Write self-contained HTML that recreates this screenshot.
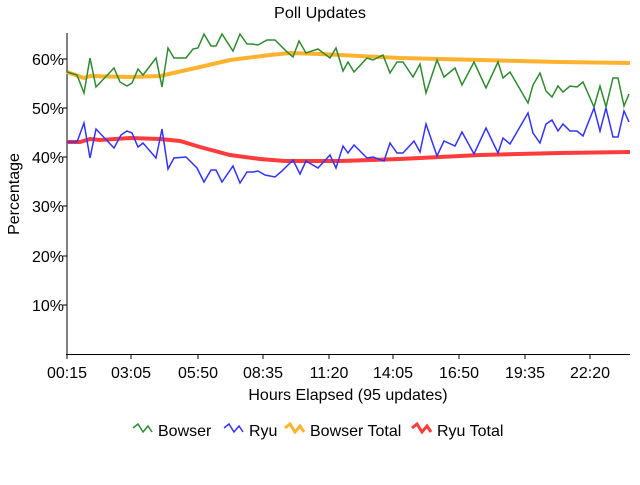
<!DOCTYPE html>
<html><head><style>body{margin:0;background:#fff}svg text{font-family:"Liberation Sans Narrow","Liberation Sans",sans-serif}</style></head><body>
<svg width="640" height="480" xmlns="http://www.w3.org/2000/svg">
<rect width="640" height="480" fill="#fff"/>
<text x="320" y="18" font-size="16" text-anchor="middle" textLength="92" lengthAdjust="spacingAndGlyphs">Poll Updates</text>
<g stroke="#000" stroke-width="1">
<line x1="67" y1="33" x2="67" y2="355"/><line x1="66" y1="354.5" x2="630" y2="354.5"/>
<line x1="63" y1="59" x2="67" y2="59"/><line x1="63" y1="108" x2="67" y2="108"/><line x1="63" y1="157" x2="67" y2="157"/><line x1="63" y1="206" x2="67" y2="206"/><line x1="63" y1="256" x2="67" y2="256"/><line x1="63" y1="305" x2="67" y2="305"/>
<line x1="67" y1="354" x2="67" y2="359"/><line x1="131" y1="354" x2="131" y2="359"/><line x1="198" y1="354" x2="198" y2="359"/><line x1="263" y1="354" x2="263" y2="359"/><line x1="329" y1="354" x2="329" y2="359"/><line x1="393" y1="354" x2="393" y2="359"/><line x1="459" y1="354" x2="459" y2="359"/><line x1="525" y1="354" x2="525" y2="359"/><line x1="590" y1="354" x2="590" y2="359"/>
</g>
<g font-size="16" text-anchor="end">
<text x="64" y="65">60%</text><text x="64" y="114">50%</text><text x="64" y="163">40%</text><text x="64" y="212">30%</text><text x="64" y="262">20%</text><text x="64" y="311">10%</text>
</g>
<g font-size="16" text-anchor="middle">
<text x="67" y="378">00:15</text><text x="131" y="378">03:05</text><text x="198" y="378">05:50</text><text x="263" y="378">08:35</text><text x="329" y="378">11:20</text><text x="393" y="378">14:05</text><text x="459" y="378">16:50</text><text x="525" y="378">19:35</text><text x="590" y="378">22:20</text>
<text x="348" y="400">Hours Elapsed (95 updates)</text>
<text transform="translate(19,194) rotate(-90)">Percentage</text>
</g>
<polyline fill="none" stroke="#ffb22e" stroke-width="4" points="67,72 84,78 90,76 130,77 160,76 200,67 230,60 270,55 290,53 320,54 340,55 400,58 480,60 560,62 630,63"/>
<polyline fill="none" stroke="#ff3b3b" stroke-width="4" points="67,142 80,142 90,139 100,140 130,138 160,139 180,141 200,147 230,155 260,159 285,161 340,161 400,159 480,155 560,153 630,152"/>
<polyline fill="none" stroke="#2e8b2e" stroke-width="1.5" points="67,72 77,75 84,93 90,58 96,87 114,68 120,82 127,86 132,83 138,69 143,75 156,58 162,87 168,48 174,58 186,58 193,49 198,48 204,34 211,46 216,46 222,34 233,51 240,34 247,44 252,44 258,45 267,40 275,40 287,52 293,57 299,41 306,53 318,49 330,58 336,48 343,71 348,62 354,72 367,58 373,60 383,55 390,73 397,62 403,62 413,77 420,64 426,93 437,60 444,77 455,68 462,85 474,62 486,88 498,62 503,78 510,72 528,103 533,85 540,73 546,91 552,97 558,86 563,92 570,86 577,87 583,82 594,107 600,86 606,107 613,78 618,78 624,106 629,94"/>
<polyline fill="none" stroke="#3333ff" stroke-width="1.5" points="67,142 77,142 84,123 90,158 96,129 114,148 121,135 127,131 132,133 138,147 143,143 156,158 162,129 168,169 174,158 186,157 197,168 204,182 211,170 216,170 222,182 233,166 240,183 247,172 253,172 258,171 265,175 275,177 282,171 293,160 300,174 306,161 318,168 330,155 336,168 343,146 348,153 354,145 367,158 373,157 384,161 390,143 397,153 403,153 414,141 420,152 426,124 437,156 444,141 455,146 462,132 474,154 486,128 498,153 503,138 510,144 528,113 533,133 540,143 546,124 552,120 558,131 563,124 570,131 577,131 583,136 594,108 600,131 606,108 613,137 618,137 624,111 629,122"/>
<g font-size="16">
<polyline fill="none" stroke="#2e8b2e" stroke-width="1.5" points="133,428 138,424 143,432 148,426 152,432"/><text x="158" y="436">Bowser</text>
<polyline fill="none" stroke="#3333ff" stroke-width="1.5" points="224,428 229,424 234,432 239,426 243,432"/><text x="249" y="436">Ryu</text>
<polyline fill="none" stroke="#ffb22e" stroke-width="3" points="285,428 290,424 295,432 300,426 304,432"/><text x="310" y="436">Bowser Total</text>
<polyline fill="none" stroke="#ff3b3b" stroke-width="3" points="412,428 417,424 422,432 427,426 431,432"/><text x="437" y="436">Ryu Total</text>
</g>
</svg>
</body></html>
